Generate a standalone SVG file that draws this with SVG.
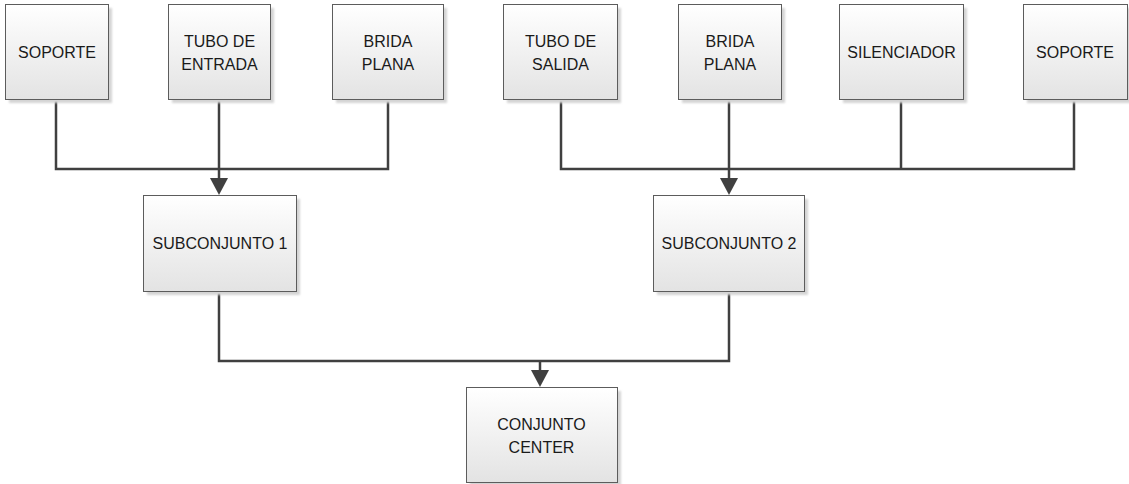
<svg xmlns="http://www.w3.org/2000/svg" width="1129" height="484" viewBox="0 0 1129 484">
  <style>
    .box { fill: url(#boxFill); stroke: #5c5c5c; stroke-width: 1; }
    .shadow { fill: #d4d4d4; filter: url(#soft); }
    .label { font-family: "Liberation Sans", Arial, sans-serif; font-size: 16px; fill: #1a1a1a; text-anchor: middle; }
    .wire { fill: none; stroke: #404040; stroke-width: 2.5; stroke-linejoin: miter; }
  </style>
  <defs>
    <linearGradient id="boxFill" x1="0" y1="0" x2="0" y2="1">
      <stop offset="0" stop-color="#ffffff"/>
      <stop offset="1" stop-color="#e3e3e3"/>
    </linearGradient>
    <filter id="soft" x="-10%" y="-10%" width="120%" height="120%">
      <feGaussianBlur stdDeviation="1.2"/>
    </filter>
    <marker id="arrow" viewBox="0 0 17 18" markerUnits="userSpaceOnUse" markerWidth="17" markerHeight="18" refX="9" refY="9" orient="auto">
      <path d="M0,0 L17,9 L0,18 Z" fill="#404040"/>
    </marker>
  </defs>

  <rect width="1129" height="484" fill="#ffffff"/>

  <!-- connectors -->
  <g id="connectors">
    <path class="wire" d="M56,99 V169 H388 V99"/>
    <path class="wire" d="M219,99 V187" marker-end="url(#arrow)"/>
    <path class="wire" d="M561,99 V169 H1074 V99"/>
    <path class="wire" d="M901,99 V169"/>
    <path class="wire" d="M729,99 V187" marker-end="url(#arrow)"/>
    <path class="wire" d="M219,291 V361 H729 V291"/>
    <path class="wire" d="M540,361 V379" marker-end="url(#arrow)"/>
  </g>

  <!-- first-level parts -->
  <g id="soporte-1">
    <rect class="shadow" x="9" y="8" width="103" height="95"/>
    <rect class="box" x="5.5" y="4.5" width="103" height="95"/>
    <text class="label" x="57" y="58">SOPORTE</text>
  </g>
  <g id="tubo-entrada">
    <rect class="shadow" x="172" y="8" width="102" height="95"/>
    <rect class="box" x="168.5" y="4.5" width="102" height="95"/>
    <text class="label" x="219.5" y="47">TUBO DE</text>
    <text class="label" x="219.5" y="70">ENTRADA</text>
  </g>
  <g id="brida-plana-1">
    <rect class="shadow" x="336" y="8" width="111" height="95"/>
    <rect class="box" x="332.5" y="4.5" width="111" height="95"/>
    <text class="label" x="388" y="47">BRIDA</text>
    <text class="label" x="388" y="70">PLANA</text>
  </g>
  <g id="tubo-salida">
    <rect class="shadow" x="507" y="8" width="114" height="95"/>
    <rect class="box" x="503.5" y="4.5" width="114" height="95"/>
    <text class="label" x="560.5" y="47">TUBO DE</text>
    <text class="label" x="560.5" y="70">SALIDA</text>
  </g>
  <g id="brida-plana-2">
    <rect class="shadow" x="682" y="8" width="103" height="95"/>
    <rect class="box" x="678.5" y="4.5" width="103" height="95"/>
    <text class="label" x="730" y="47">BRIDA</text>
    <text class="label" x="730" y="70">PLANA</text>
  </g>
  <g id="silenciador">
    <rect class="shadow" x="843" y="8" width="124" height="95"/>
    <rect class="box" x="839.5" y="4.5" width="124" height="95"/>
    <text class="label" x="901.5" y="58">SILENCIADOR</text>
  </g>
  <g id="soporte-2">
    <rect class="shadow" x="1027" y="8" width="104" height="95"/>
    <rect class="box" x="1023.5" y="4.5" width="104" height="95"/>
    <text class="label" x="1075" y="58">SOPORTE</text>
  </g>

  <!-- sub-assemblies -->
  <g id="subconjunto-1">
    <rect class="shadow" x="147" y="199" width="153" height="96"/>
    <rect class="box" x="143.5" y="195.5" width="153" height="96"/>
    <text class="label" x="220" y="249">SUBCONJUNTO 1</text>
  </g>
  <g id="subconjunto-2">
    <rect class="shadow" x="657" y="199" width="151" height="96"/>
    <rect class="box" x="653.5" y="195.5" width="151" height="96"/>
    <text class="label" x="729" y="249">SUBCONJUNTO 2</text>
  </g>

  <!-- final assembly -->
  <g id="conjunto-center">
    <rect class="shadow" x="470" y="391" width="151" height="95"/>
    <rect class="box" x="466.5" y="387.5" width="151" height="95"/>
    <text class="label" x="541.5" y="430">CONJUNTO</text>
    <text class="label" x="541.5" y="453">CENTER</text>
  </g>
</svg>
